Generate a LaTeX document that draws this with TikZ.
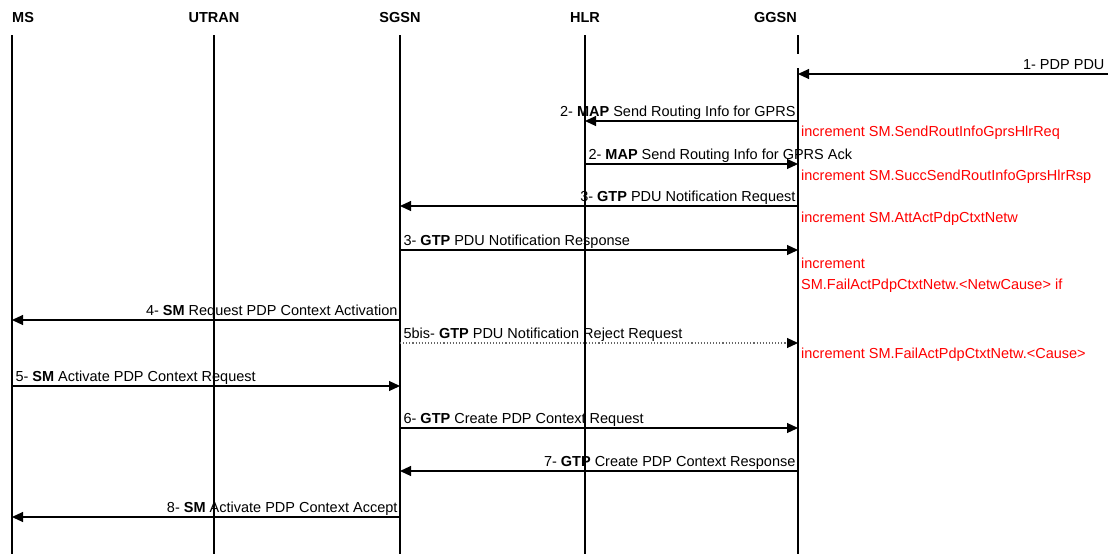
\documentclass[tikz,border=0pt]{standalone}
\usepackage{fontspec}
\setmainfont{Liberation Sans}
\usetikzlibrary{arrows.meta}

\begin{document}
\begin{tikzpicture}[x=1pt, y=-1pt,
    every node/.style={font=\fontsize{14.5}{17}\selectfont, inner sep=0pt},
    life/.style={line width=2pt},
    msg/.style={line width=1.1pt, -{Triangle[length=11pt,width=10pt]}},
    rej/.style={msg, dotted, draw=black!60, -{Triangle[length=11pt,width=10pt,color=black]}},
    lbl/.style={at start, anchor=base west, xshift=3pt, yshift=5pt},
    lblr/.style={at start, anchor=base east, xshift=-2pt, yshift=5pt},
    cnt/.style={anchor=base west, text=red}]
    \useasboundingbox (0,0) rectangle (1110,554);

    \coordinate (ms) at (12,35);
    \coordinate (utran) at (214,35);
    \coordinate (sgsn) at (400,35);
    \coordinate (hlr) at (585,35);
    \coordinate (ggsn) at (798,35);
    \coordinate (net) at (1108,35);

    \node[anchor=base west] (msname) at (12,23) {\textbf{MS}};
    \node[anchor=base] (utranname) at (214,23) {\textbf{UTRAN}};
    \node[anchor=base] (sgsnname) at (400,23) {\textbf{SGSN}};
    \node[anchor=base] (hlrname) at (585,23) {\textbf{HLR}};
    \node[anchor=base east] (ggsnname) at (797,23) {\textbf{GGSN}};

    \draw[life] (ms) -- (ms |- 0,554);
    \draw[life] (utran) -- (utran |- 0,554);
    \draw[life] (sgsn) -- (sgsn |- 0,554);
    \draw[life] (hlr) -- (hlr |- 0,554);
    \draw[life] (ggsn) -- (ggsn |- 0,54);
    \draw[life] (ggsn |- 0,68) -- (ggsn |- 0,554);

    \coordinate (r1) at (0,74);
    \coordinate (r2) at (0,121);
    \coordinate (r3) at (0,164);
    \coordinate (r4) at (0,206);
    \coordinate (r5) at (0,250);
    \coordinate (r6) at (0,320);
    \coordinate (r7) at (0,343);
    \coordinate (r8) at (0,386);
    \coordinate (r9) at (0,428);
    \coordinate (r10) at (0,471);
    \coordinate (r11) at (0,517);

    \draw[msg] (net |- r1) -- node[lblr, xshift=-1pt] (l1) {1- PDP PDU} (ggsn |- r1);
    \draw[msg] (ggsn |- r2) -- node[lblr] (l2) {2- \textbf{MAP} Send Routing Info for GPRS} (hlr |- r2);
    \draw[msg] (hlr |- r3) -- node[lbl] (l3) {2- \textbf{MAP} Send Routing Info for GPRS Ack} (ggsn |- r3);
    \draw[msg] (ggsn |- r4) -- node[lblr] (l4) {3- \textbf{GTP} PDU Notification Request} (sgsn |- r4);
    \draw[msg] (sgsn |- r5) -- node[lbl] (l5) {3- \textbf{GTP} PDU Notification Response} (ggsn |- r5);
    \draw[msg] (sgsn |- r6) -- node[lblr] (l6) {4- \textbf{SM} Request PDP Context Activation} (ms |- r6);
    \draw[rej] (sgsn |- r7) -- node[lbl] (l7) {5bis- \textbf{GTP} PDU Notification Reject Request} (ggsn |- r7);
    \draw[msg] (ms |- r8) -- node[lbl] (l8) {5- \textbf{SM} Activate PDP Context Request} (sgsn |- r8);
    \draw[msg] (sgsn |- r9) -- node[lbl] (l9) {6- \textbf{GTP} Create PDP Context Request} (ggsn |- r9);
    \draw[msg] (ggsn |- r10) -- node[lblr] (l10) {7- \textbf{GTP} Create PDP Context Response} (sgsn |- r10);
    \draw[msg] (sgsn |- r11) -- node[lblr] (l11) {8- \textbf{SM} Activate PDP Context Accept} (ms |- r11);

    \node[cnt] (c1) at (801,136) {increment SM.SendRoutInfoGprsHlrReq};
    \node[cnt] (c2) at (801,180) {increment SM.SuccSendRoutInfoGprsHlrRsp};
    \node[cnt] (c3) at (801,222) {increment SM.AttActPdpCtxtNetw};
    \node[cnt] (c4) at (801,268) {increment};
    \node[cnt] (c5) at (801,289) {SM.FailActPdpCtxtNetw.<NetwCause> if};
    \node[cnt] (c6) at (801,358) {increment SM.FailActPdpCtxtNetw.<Cause>};
\end{tikzpicture}
\end{document}
